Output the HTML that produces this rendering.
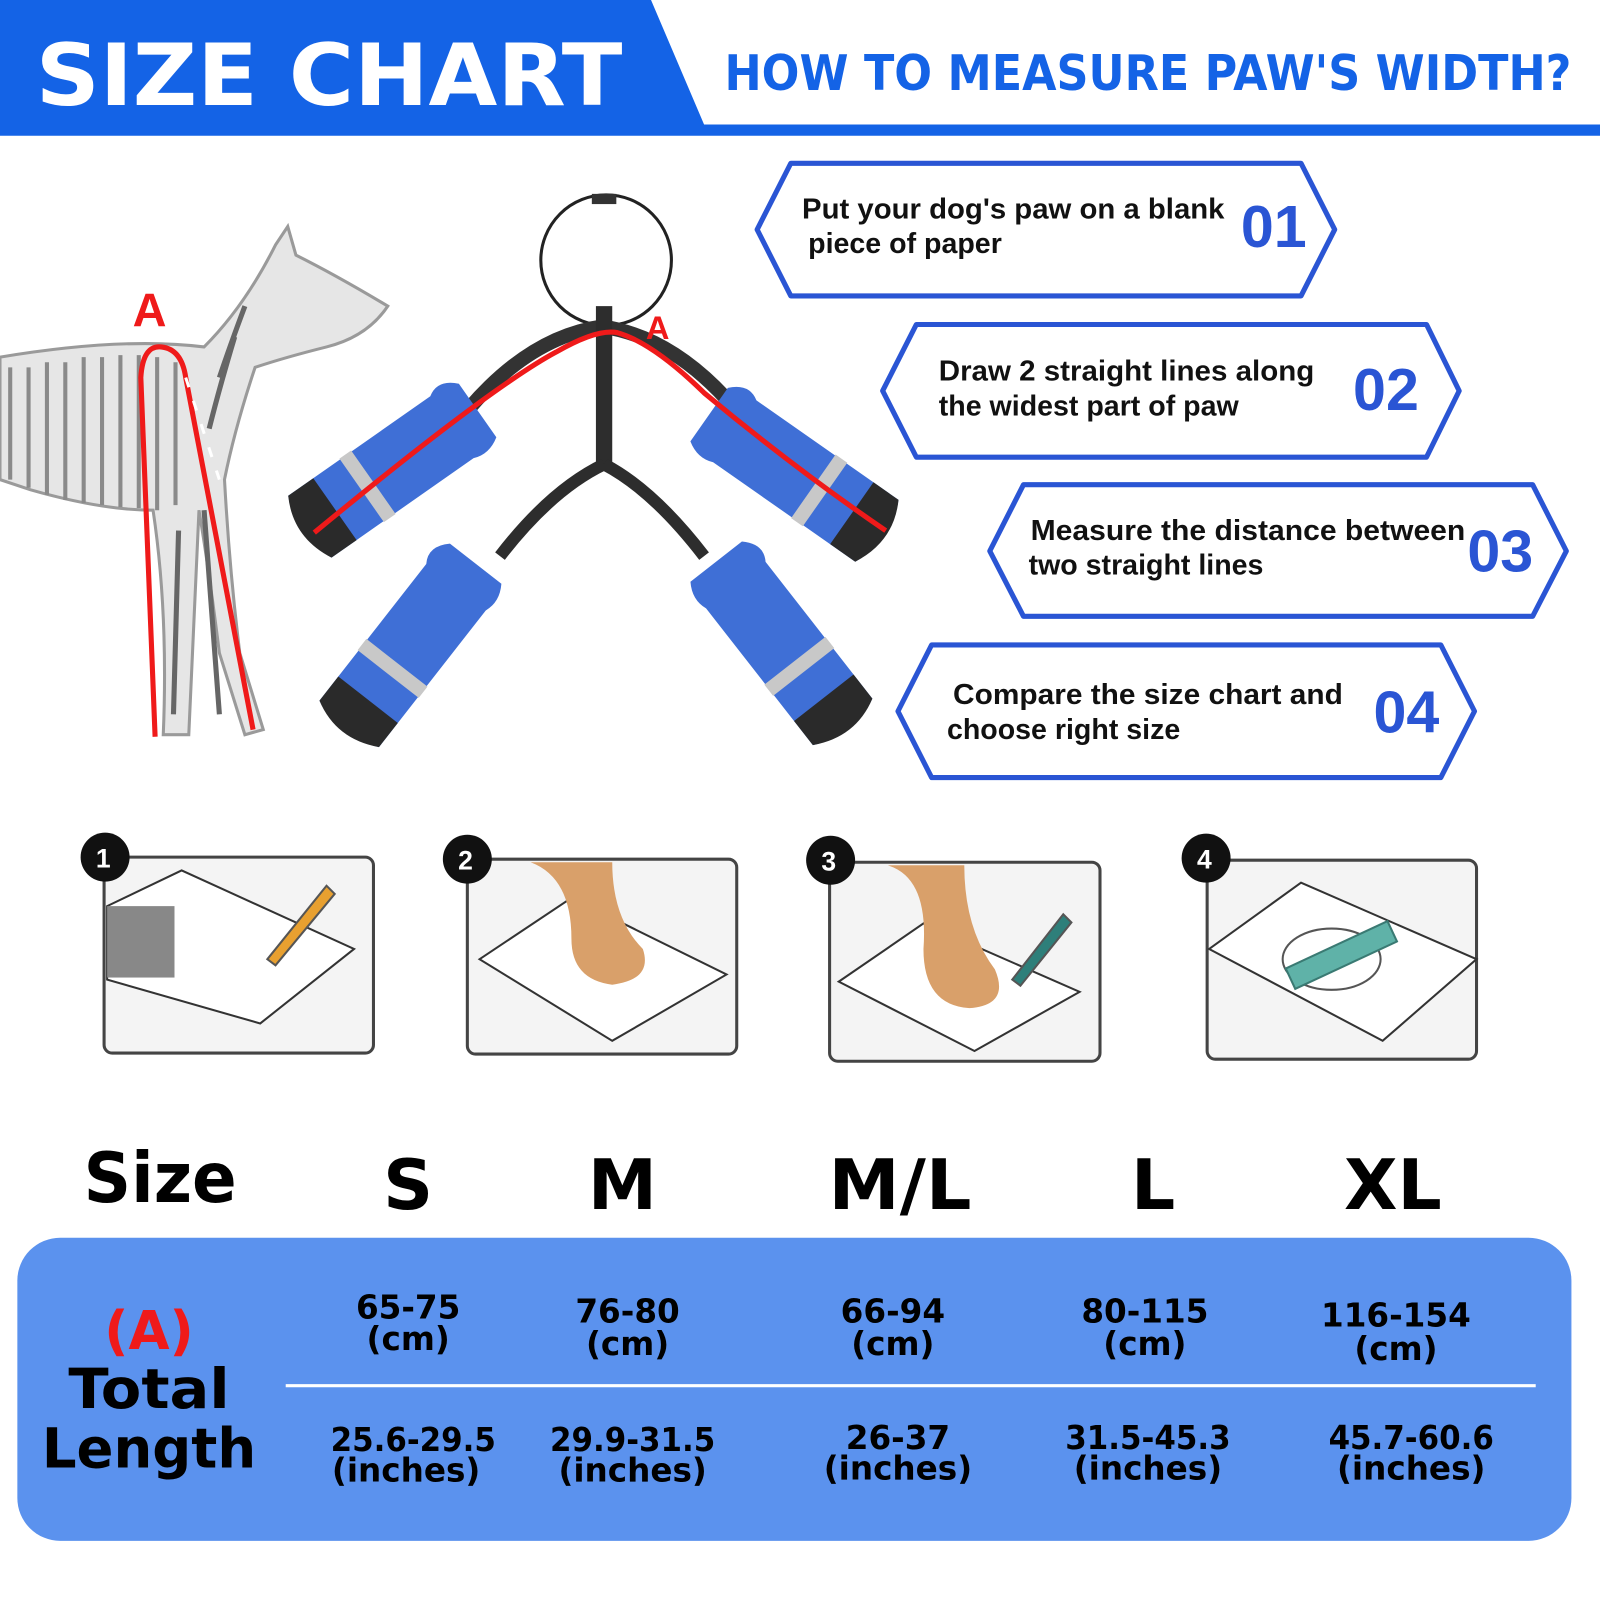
<!DOCTYPE html>
<html><head><meta charset="utf-8"><style>
html,body{margin:0;padding:0;background:#fff;}
svg{display:block}
text{font-family:"DejaVu Sans","Liberation Sans",sans-serif;font-weight:bold}
text.a{font-family:"Liberation Sans",Arial,sans-serif !important;font-weight:bold}
</style></head><body>
<svg width="1600" height="1600" viewBox="0 0 1568 1568" xmlns="http://www.w3.org/2000/svg">
<defs>
<g id="boot">
  <path d="M-100,-36 L70,-36 Q85,-46 100,-30 L100,34 Q85,44 70,38 L-100,38 Q-118,0 -100,-36 Z" fill="#3f6fd6"/>
  <path d="M-100,-36 L-70,-36 L-70,38 L-100,38 Q-120,0 -100,-36 Z" fill="#2a2a2a"/>
  <rect x="-38" y="-37" width="14" height="76" fill="#c8c8c8"/>
</g>
</defs>
<!-- header -->
<polygon points="0,0 638,0 690,122 1568,122 1568,133 0,133" fill="#1463e6"/>
<text x="35" y="103" font-size="84" fill="#fff" textLength="575" lengthAdjust="spacingAndGlyphs">SIZE CHART</text>
<text x="710" y="88" font-size="48" fill="#1463e6" textLength="830" lengthAdjust="spacingAndGlyphs">HOW TO MEASURE PAW'S WIDTH?</text>

<!-- skeleton dog approximation -->
<path d="M0,350 Q120,330 200,340 Q240,300 270,240 L282,222 L290,250 Q330,270 380,300 Q360,330 320,340 Q280,350 250,360 Q230,420 220,470 Q225,560 235,640 L258,715 L240,720 L215,640 Q205,560 195,500 L185,720 L160,720 Q165,600 150,500 Q100,500 30,480 L0,470 Z" fill="#e6e6e6" stroke="#9a9a9a" stroke-width="3"/>
<g fill="none" stroke="#8a8a8a" stroke-width="4">
  <path d="M10,360 L10,470 M28,360 L28,478 M46,355 L46,485 M64,355 L64,490 M82,350 L82,493 M100,350 L100,495 M118,348 L118,497 M136,348 L136,498 M154,350 L154,500 M172,355 L172,495"/>
  <path d="M230,330 Q215,380 205,420 M240,300 Q225,340 215,370 M200,500 L215,700 M175,520 L170,700" stroke="#666" stroke-width="5"/>
</g>
<path d="M152,722 L138,370 Q140,338 158,340 Q178,342 182,370 L248,715" fill="none" stroke="#ef1a1a" stroke-width="5"/>
<path d="M182,370 L215,470" stroke="#fff" stroke-width="3" stroke-dasharray="10 14" fill="none"/>
<text x="130" y="320" font-size="46" fill="#ef1a1a" class="a">A</text>

<!-- harness -->
<ellipse cx="594" cy="255" rx="64" ry="64" fill="none" stroke="#222" stroke-width="3"/>
<rect x="580" y="190" width="24" height="10" fill="#333"/>
<path d="M460,400 Q520,330 590,320 Q660,330 720,400" fill="none" stroke="#333" stroke-width="14"/>
<rect x="584" y="300" width="16" height="160" fill="#2d2d2d"/>
<path d="M592,455 Q540,480 490,545 M592,455 Q640,480 690,545" fill="none" stroke="#2d2d2d" stroke-width="12"/>
<use href="#boot" transform="translate(385,458) rotate(-35)"/>
<use href="#boot" transform="translate(778,462) rotate(35) scale(-1,1)"/>
<use href="#boot" transform="translate(403,630) rotate(-52)"/>
<use href="#boot" transform="translate(765,628) rotate(52) scale(-1,1)"/>
<path d="M308,522 Q480,380 545,345 Q585,322 605,326 Q640,336 690,385 Q780,460 868,520" fill="none" stroke="#ef1a1a" stroke-width="5"/>
<text x="633" y="332" font-size="32" fill="#ef1a1a" class="a">A</text>

<!-- hexagons -->
<g fill="none" stroke="#2a55d4" stroke-width="5" stroke-linejoin="round">
  <polygon points="742,225 775,160 1275,160 1308,225 1275,290 775,290"/>
  <polygon points="865,383 898,318 1398,318 1430,383 1398,448 898,448"/>
  <polygon points="970,540 1003,475 1502,475 1535,540 1502,604 1003,604"/>
  <polygon points="880,697 913,632 1412,632 1445,697 1412,762 913,762"/>
</g>
<g font-size="28" fill="#111">
  <text x="786" y="214" class="a" style="font-family:'Liberation Sans',sans-serif" textLength="414" lengthAdjust="spacingAndGlyphs">Put your dog's paw on a blank</text>
  <text x="792" y="248" class="a" style="font-family:'Liberation Sans',sans-serif">piece of paper</text>
  <text x="920" y="373" class="a" style="font-family:'Liberation Sans',sans-serif" textLength="368" lengthAdjust="spacingAndGlyphs">Draw 2 straight lines along</text>
  <text x="920" y="407" class="a" style="font-family:'Liberation Sans',sans-serif">the widest part of paw</text>
  <text x="1010" y="529" class="a" style="font-family:'Liberation Sans',sans-serif" textLength="426" lengthAdjust="spacingAndGlyphs">Measure the distance between</text>
  <text x="1008" y="563" class="a" style="font-family:'Liberation Sans',sans-serif">two straight lines</text>
  <text x="934" y="690" class="a" style="font-family:'Liberation Sans',sans-serif" textLength="382" lengthAdjust="spacingAndGlyphs">Compare the size chart and</text>
  <text x="928" y="724" class="a" style="font-family:'Liberation Sans',sans-serif">choose right size</text>
</g>
<g font-size="58" fill="#2a55d4">
  <text x="1216" y="242" class="a">01</text>
  <text x="1326" y="402" class="a">02</text>
  <text x="1438" y="560" class="a">03</text>
  <text x="1346" y="718" class="a">04</text>
</g>

<!-- steps -->
<g fill="#f4f4f4" stroke="#444" stroke-width="3">
  <rect x="102" y="840" width="264" height="192" rx="8"/>
  <rect x="458" y="842" width="264" height="191" rx="8"/>
  <rect x="813" y="845" width="265" height="195" rx="8"/>
  <rect x="1183" y="843" width="264" height="195" rx="8"/>
</g>
<g fill="#fff" stroke="#333" stroke-width="2">
  <polygon points="105,888 178,853 347,930 255,1003 105,960"/>
  <polygon points="470,940 560,880 712,955 600,1020"/>
  <polygon points="822,962 905,905 1058,972 955,1030"/>
  <polygon points="1185,930 1275,865 1447,940 1355,1020"/>
</g>
<rect x="105" y="888" width="66" height="70" fill="#888"/>
<path d="M262,940 L320,868 L328,876 L270,946 Z" fill="#e8a030" stroke="#555" stroke-width="2"/>
<path d="M520,845 Q560,860 560,920 Q560,960 600,965 Q640,960 630,930 Q600,900 600,845 Z" fill="#d9a06a"/>
<path d="M870,848 Q910,860 905,930 Q905,985 950,988 Q990,985 975,950 Q945,910 945,848 Z" fill="#d9a06a"/>
<path d="M992,960 L1042,896 L1050,904 L1000,966 Z" fill="#2e7f7a" stroke="#555" stroke-width="2"/>
<ellipse cx="1305" cy="940" rx="48" ry="30" fill="none" stroke="#555" stroke-width="2"/>
<rect x="1260" y="927" width="110" height="22" fill="#5fb2a8" stroke="#3a7a73" stroke-width="2" transform="rotate(-25 1310 938)"/>
<g font-size="26" fill="#fff">
  <circle cx="103" cy="840" r="24" fill="#111"/><text x="94" y="850" class="a">1</text>
  <circle cx="458" cy="842" r="24" fill="#111"/><text x="449" y="852" class="a">2</text>
  <circle cx="814" cy="843" r="24" fill="#111"/><text x="805" y="853" class="a">3</text>
  <circle cx="1182" cy="841" r="24" fill="#111"/><text x="1173" y="851" class="a">4</text>
</g>

<!-- size row -->
<g fill="#000" font-size="68">
  <text x="82" y="1178" textLength="150" lengthAdjust="spacingAndGlyphs">Size</text>
  <text x="400" y="1185" text-anchor="middle">S</text>
  <text x="610" y="1185" text-anchor="middle">M</text>
  <text x="882" y="1185" text-anchor="middle" textLength="140" lengthAdjust="spacingAndGlyphs">M/L</text>
  <text x="1130" y="1185" text-anchor="middle">L</text>
  <text x="1365" y="1185" text-anchor="middle">XL</text>
</g>

<!-- table -->
<rect x="17" y="1213" width="1523" height="297" rx="42" fill="#5b92ee"/>
<line x1="280" y1="1358" x2="1505" y2="1358" stroke="#fff" stroke-width="3"/>
<text x="146" y="1322" font-size="52" fill="#ef1a1a" text-anchor="middle">(A)</text>
<text x="146" y="1380" font-size="54" fill="#000" text-anchor="middle" textLength="158" lengthAdjust="spacingAndGlyphs">Total</text>
<text x="146" y="1438" font-size="54" fill="#000" text-anchor="middle" textLength="210" lengthAdjust="spacingAndGlyphs">Length</text>
<g font-size="32" fill="#000" text-anchor="middle">
  <text x="400" y="1292">65-75</text><text x="400" y="1323">(cm)</text>
  <text x="615" y="1296">76-80</text><text x="615" y="1328">(cm)</text>
  <text x="875" y="1296">66-94</text><text x="875" y="1328">(cm)</text>
  <text x="1122" y="1296">80-115</text><text x="1122" y="1328">(cm)</text>
  <text x="1368" y="1300">116-154</text><text x="1368" y="1333">(cm)</text>
  <text x="405" y="1422" textLength="162" lengthAdjust="spacingAndGlyphs">25.6-29.5</text><text x="398" y="1452">(inches)</text>
  <text x="620" y="1422" textLength="162" lengthAdjust="spacingAndGlyphs">29.9-31.5</text><text x="620" y="1452">(inches)</text>
  <text x="880" y="1420">26-37</text><text x="880" y="1450">(inches)</text>
  <text x="1125" y="1420" textLength="162" lengthAdjust="spacingAndGlyphs">31.5-45.3</text><text x="1125" y="1450">(inches)</text>
  <text x="1383" y="1420" textLength="162" lengthAdjust="spacingAndGlyphs">45.7-60.6</text><text x="1383" y="1450">(inches)</text>
</g>
</svg>
</body></html>
